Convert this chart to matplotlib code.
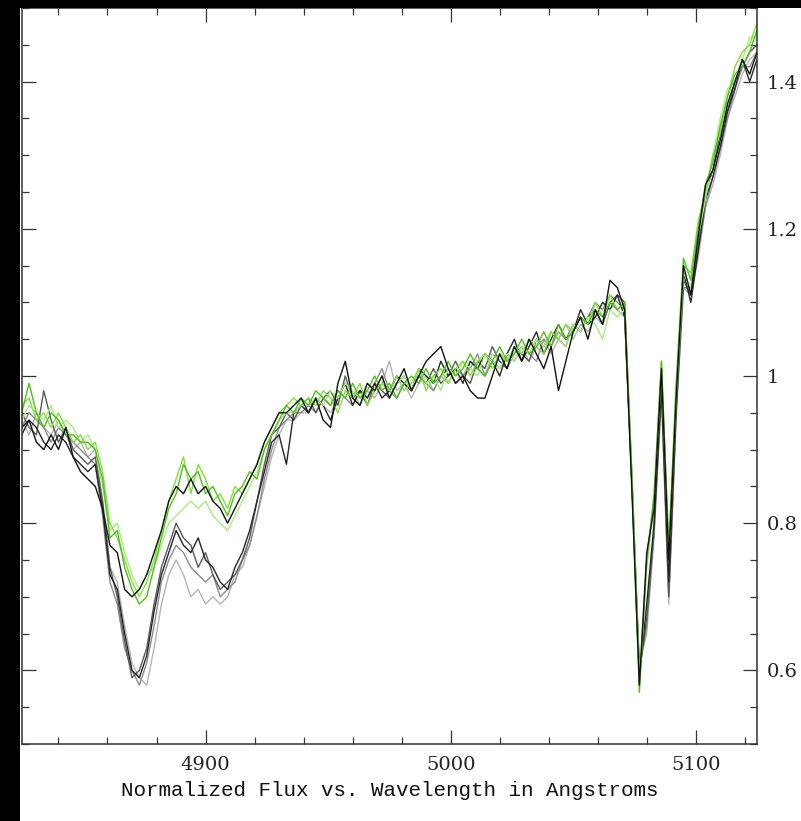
import numpy as np
import matplotlib
matplotlib.use('Agg')
from matplotlib import pyplot as plt
from matplotlib.patches import Rectangle
from matplotlib.ticker import MultipleLocator, FuncFormatter

# wavelength grid (Angstroms), one sample every 3 A
wavelength = np.arange(4825, 5126, 3)

# spectra with the deeper 4870 dip (grey family)
flux_dark = [
    0.92, 0.94, 0.93, 0.91, 0.90, 0.92, 0.91, 0.89, 0.88, 0.87, 0.88,
    0.82, 0.73, 0.71, 0.65, 0.60, 0.59, 0.62, 0.68, 0.73, 0.76,
    0.79, 0.77, 0.76, 0.78, 0.75, 0.74, 0.72, 0.71, 0.74, 0.76,
    0.79, 0.83, 0.87, 0.91, 0.92, 0.88, 0.95, 0.96,
    0.95, 0.97, 0.96, 0.94, 0.97, 0.99, 0.96, 0.98, 0.97, 0.99,
    0.97, 0.98, 1.00, 0.99, 0.98, 1.01, 1.00, 0.99, 1.02, 1.00,
    1.01, 0.99, 1.02, 1.01, 1.03, 1.02, 1.00, 1.03, 1.05, 1.02,
    1.04, 1.06, 1.03, 1.05, 1.07, 1.05, 1.06, 1.09, 1.07, 1.08,
    1.10, 1.09, 1.11,
    1.08, 0.85, 0.59, 0.69, 0.80, 0.99, 0.72, 0.96, 1.14, 1.10,
    1.17, 1.24, 1.27, 1.31, 1.36, 1.39, 1.43, 1.40, 1.43,
]
flux_dgray = [
    0.95, 0.93, 0.92, 0.98, 0.94, 0.91, 0.93, 0.90, 0.89, 0.88, 0.89,
    0.83, 0.74, 0.70, 0.64, 0.59, 0.60, 0.63, 0.69, 0.74, 0.77,
    0.80, 0.78, 0.77, 0.74, 0.76, 0.73, 0.71, 0.72, 0.73, 0.75,
    0.78, 0.83, 0.88, 0.92, 0.93, 0.95, 0.94, 0.96,
    0.97, 0.95, 0.97, 0.98, 0.96, 1.00, 0.97, 0.98, 0.96, 0.99,
    0.98, 0.97, 0.99, 1.00, 0.98, 1.00, 0.99, 1.01, 0.99, 1.00,
    1.02, 1.00, 0.99, 1.02, 1.01, 1.04, 1.02, 1.01, 1.04, 1.03,
    1.02, 1.05, 1.04, 1.06, 1.05, 1.04, 1.07, 1.06, 1.08, 1.09,
    1.07, 1.10, 1.11,
    1.10, 0.86, 0.60, 0.67, 0.79, 0.98, 0.70, 0.95, 1.13, 1.11,
    1.18, 1.25, 1.28, 1.33, 1.36, 1.40, 1.42, 1.44, 1.45,
]
flux_gray = [
    0.93, 0.95, 0.94, 0.93, 0.91, 0.93, 0.92, 0.91, 0.90, 0.89, 0.88,
    0.81, 0.72, 0.69, 0.63, 0.60, 0.58, 0.61, 0.66, 0.72, 0.75,
    0.77, 0.76, 0.74, 0.73, 0.72, 0.73, 0.70, 0.71, 0.72, 0.75,
    0.77, 0.81, 0.86, 0.90, 0.93, 0.94, 0.95, 0.95,
    0.96, 0.95, 0.97, 0.96, 0.98, 0.97, 0.96, 0.98, 0.97, 0.99,
    1.01, 0.98, 0.97, 0.99, 0.98, 1.00, 0.99, 0.98, 1.00, 1.01,
    0.99, 1.00, 1.01, 1.03, 1.00, 1.02, 1.01, 1.03, 1.02, 1.04,
    1.03, 1.02, 1.05, 1.04, 1.06, 1.05, 1.07, 1.06, 1.08, 1.10,
    1.09, 1.11, 1.10,
    1.09, 0.85, 0.60, 0.66, 0.79, 0.99, 0.70, 0.95, 1.12, 1.12,
    1.17, 1.23, 1.27, 1.31, 1.35, 1.39, 1.42, 1.42, 1.44,
]
flux_lgray = [
    0.94, 0.92, 0.95, 0.93, 0.92, 0.94, 0.92, 0.90, 0.91, 0.89, 0.90,
    0.83, 0.74, 0.72, 0.66, 0.61, 0.59, 0.58, 0.63, 0.69, 0.73,
    0.75, 0.73, 0.70, 0.71, 0.69, 0.70, 0.69, 0.70, 0.73, 0.74,
    0.77, 0.81, 0.85, 0.89, 0.92, 0.94, 0.94, 0.95,
    0.95, 0.97, 0.96, 0.95, 0.97, 0.99, 0.98, 0.96, 0.98, 0.97,
    0.99, 1.02, 0.98, 0.99, 0.97, 0.99, 1.00, 0.98, 1.00, 0.99,
    1.01, 1.00, 1.02, 1.01, 1.00, 1.03, 1.02, 1.01, 1.03, 1.04,
    1.02, 1.04, 1.05, 1.03, 1.05, 1.07, 1.05, 1.07, 1.06, 1.08,
    1.07, 1.10, 1.09,
    1.08, 0.86, 0.61, 0.65, 0.78, 0.97, 0.69, 0.94, 1.12, 1.11,
    1.16, 1.23, 1.26, 1.30, 1.35, 1.38, 1.41, 1.43, 1.44,
]

# spectra with the shallower 4870 dip (green family + one black)
flux_black = [
    0.93, 0.94, 0.91, 0.90, 0.92, 0.90, 0.93, 0.89, 0.87, 0.86, 0.85,
    0.82, 0.77, 0.76, 0.71, 0.70, 0.71, 0.73, 0.76, 0.79, 0.83,
    0.85, 0.84, 0.86, 0.84, 0.85, 0.83, 0.82, 0.80, 0.82, 0.84,
    0.86, 0.88, 0.91, 0.93, 0.95, 0.95, 0.96, 0.97,
    0.95, 0.97, 0.94, 0.93, 0.99, 1.02, 0.97, 0.96, 0.99, 0.98,
    1.00, 0.97, 0.99, 1.01, 0.98, 1.00, 1.02, 1.03, 1.04, 1.01,
    0.99, 1.00, 0.98, 0.97, 0.97, 1.00, 1.03, 1.01, 1.04, 1.02,
    1.05, 1.03, 1.01, 1.04, 0.98, 1.02, 1.06, 1.08, 1.05, 1.09,
    1.07, 1.13, 1.12,
    1.09, 0.84, 0.58, 0.76, 0.82, 1.01, 0.75, 0.97, 1.15, 1.11,
    1.19, 1.26, 1.28, 1.32, 1.37, 1.40, 1.43, 1.41, 1.44,
]
flux_green = [
    0.95, 0.99, 0.95, 0.93, 0.95, 0.94, 0.92, 0.92, 0.91, 0.91, 0.90,
    0.86, 0.78, 0.79, 0.74, 0.71, 0.69, 0.70, 0.74, 0.78, 0.82,
    0.84, 0.88, 0.86, 0.87, 0.84, 0.85, 0.83, 0.81, 0.84, 0.85,
    0.87, 0.86, 0.90, 0.92, 0.94, 0.96, 0.95, 0.97,
    0.96, 0.98, 0.97, 0.96, 0.98, 0.97, 0.99, 0.97, 0.98, 1.00,
    0.98, 0.99, 0.97, 0.99, 1.00, 0.99, 1.01, 0.99, 1.00, 1.02,
    1.00, 1.01, 1.03, 1.01, 1.00, 1.02, 1.04, 1.02, 1.03, 1.05,
    1.03, 1.04, 1.06, 1.04, 1.07, 1.05, 1.06, 1.08, 1.07, 1.09,
    1.08, 1.10, 1.09,
    1.10, 0.85, 0.57, 0.75, 0.84, 1.02, 0.76, 0.99, 1.16, 1.13,
    1.20, 1.26, 1.29, 1.34, 1.38, 1.41, 1.42, 1.44, 1.47,
]
flux_lime = [
    0.96, 0.97, 0.94, 0.95, 0.93, 0.95, 0.93, 0.91, 0.92, 0.90, 0.91,
    0.87, 0.80, 0.78, 0.75, 0.72, 0.70, 0.72, 0.75, 0.79, 0.83,
    0.86, 0.89, 0.84, 0.88, 0.86, 0.83, 0.84, 0.82, 0.85, 0.84,
    0.86, 0.88, 0.91, 0.93, 0.95, 0.96, 0.97, 0.96,
    0.97, 0.96, 0.98, 0.97, 0.95, 0.98, 0.97, 0.99, 0.96, 0.98,
    0.99, 0.98, 1.00, 0.98, 0.99, 1.01, 0.98, 1.00, 1.01, 0.99,
    1.01, 1.02, 1.00, 1.02, 1.03, 1.01, 1.03, 1.02, 1.04, 1.03,
    1.05, 1.04, 1.03, 1.06, 1.05, 1.07, 1.06, 1.08, 1.07, 1.10,
    1.08, 1.11, 1.09,
    1.10, 0.86, 0.58, 0.74, 0.83, 1.02, 0.77, 0.98, 1.15, 1.14,
    1.21, 1.25, 1.30, 1.33, 1.38, 1.42, 1.44, 1.45, 1.48,
]
flux_lgreen = [
    0.94, 0.96, 0.95, 0.94, 0.96, 0.93, 0.94, 0.93, 0.91, 0.92, 0.90,
    0.85, 0.79, 0.80, 0.76, 0.73, 0.71, 0.73, 0.74, 0.77, 0.80,
    0.81, 0.82, 0.83, 0.82, 0.83, 0.81, 0.80, 0.79, 0.81, 0.83,
    0.85, 0.87, 0.90, 0.92, 0.94, 0.95, 0.95, 0.96,
    0.96, 0.97, 0.96, 0.98, 0.97, 0.99, 0.98, 0.97, 0.99, 0.98,
    1.00, 0.97, 0.99, 1.00, 0.98, 1.01, 0.99, 1.00, 0.98, 1.01,
    1.00, 1.02, 1.01, 1.00, 1.03, 1.02, 1.01, 1.03, 1.02, 1.04,
    1.03, 1.05, 1.04, 1.06, 1.05, 1.04, 1.07, 1.06, 1.08, 1.07,
    1.05, 1.09, 1.08,
    1.09, 0.86, 0.59, 0.75, 0.83, 1.01, 0.76, 0.97, 1.14, 1.12,
    1.19, 1.24, 1.30, 1.35, 1.39, 1.40, 1.43, 1.46, 1.46,
]

spectra = [
    (flux_lgray, '#b4b4b4'),
    (flux_gray, '#8c8c8c'),
    (flux_dgray, '#5a5a5a'),
    (flux_dark, '#262626'),
    (flux_lgreen, '#a8ec80'),
    (flux_lime, '#7ee03a'),
    (flux_green, '#4fbf1c'),
    (flux_black, '#111111'),
]

xticks = [4900, 5000, 5100]
yticks = [0.6, 0.8, 1.0, 1.2, 1.4]

plt.rcParams['font.family'] = ['DejaVu Serif']

fig = plt.figure(figsize=(8.01, 8.21), dpi=100, facecolor='white')
ax = fig.add_axes([0.0271, 0.0938, 0.918, 0.8965])

for flux, color in spectra:
    assert len(flux) == len(wavelength)
    ax.plot(wavelength, flux, color=color, lw=1.0)

ax.set_xlim(4825, 5125)
ax.set_ylim(0.5, 1.5)
ax.set_xticks(xticks)
ax.set_yticks(yticks)
ax.xaxis.set_minor_locator(MultipleLocator(20))
ax.yaxis.set_minor_locator(MultipleLocator(0.05))
ax.yaxis.set_major_formatter(FuncFormatter(lambda v, _: f'{v:g}'))

ax.tick_params(which='both', direction='in', top=True, right=True,
               labelleft=False, labelright=True, width=0.9, color='#333333',
               labelsize=14, labelcolor='#222222')
ax.tick_params(which='major', length=10)
ax.tick_params(which='minor', length=5)
ax.tick_params(axis='x', pad=9)
ax.tick_params(axis='y', pad=7)
for spine in ax.spines.values():
    spine.set_color('#333333')
    spine.set_linewidth(1.1)

ax.set_xlabel('Normalized Flux vs. Wavelength in Angstroms', fontsize=15,
              family='Liberation Mono', color='#111111', labelpad=5)

# black border strips along the top and the left of the picture
fig.add_artist(Rectangle((0, 0.9903), 1, 0.0097, transform=fig.transFigure,
                         facecolor='black', edgecolor='none'))
fig.add_artist(Rectangle((0, 0), 20 / 801, 1, transform=fig.transFigure,
                         facecolor='black', edgecolor='none'))

fig.savefig('out.png', dpi=100, facecolor='white')
